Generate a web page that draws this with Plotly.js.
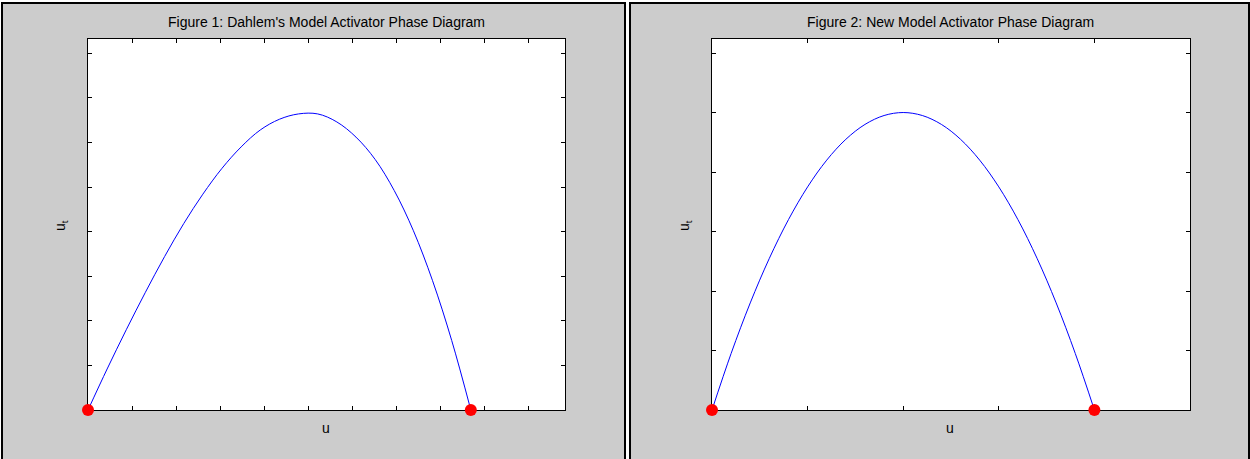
<!DOCTYPE html>
<html>
<head>
<meta charset="utf-8">
<script src="https://cdn.plot.ly/plotly-3.0.1.min.js"></script>
<style>html,body{margin:0;padding:0;background:#fff;}#chart{width:1250px;height:459px;}</style>
</head>
<body>
<div id="chart"></div>
<script>
// Figure 1: Dahlem's model
const uDahlem = [0, 0.0435, 0.087, 0.1305, 0.174, 0.2175, 0.261, 0.3045, 0.348, 0.3915, 0.435, 0.4785, 0.522, 0.5655, 0.609, 0.6525, 0.696, 0.7395, 0.783, 0.8265, 0.870];
const utDahlem = [0, 0.046, 0.090, 0.132, 0.172, 0.209, 0.242, 0.271, 0.295, 0.314, 0.326, 0.332, 0.332, 0.323, 0.306, 0.281, 0.246, 0.201, 0.145, 0.078, 0];
const rootsDahlem = [0, 0.870];

// Figure 2: New model
const uNew = [0, 0.05, 0.1, 0.15, 0.2, 0.25, 0.3, 0.35, 0.4, 0.45, 0.5, 0.55, 0.6, 0.65, 0.7, 0.75, 0.8, 0.85, 0.9, 0.95, 1.0];
const utNew = [0, 0.0475, 0.090, 0.1275, 0.160, 0.1875, 0.210, 0.2275, 0.240, 0.2475, 0.250, 0.2475, 0.240, 0.2275, 0.210, 0.1875, 0.160, 0.1275, 0.090, 0.0475, 0];
const rootsNew = [0, 1.0];

const titles = ["Figure 1: Dahlem's Model Activator Phase Diagram", "Figure 2: New Model Activator Phase Diagram"];
const xLabel = "u";
const yLabel = "u<sub>t</sub>";

const W = 1250, H = 459;
const px = v => v / W;
const py = v => 1 - v / H;

const lineStyle = {color: 'rgb(0,0,255)', width: 1, shape: 'spline', smoothing: 1};
const dotStyle = {color: 'rgb(255,0,0)', size: 12};

const traces = [
  {x: uDahlem, y: utDahlem, mode: 'lines', line: lineStyle, xaxis: 'x', yaxis: 'y', hoverinfo: 'skip'},
  {x: rootsDahlem, y: [0, 0], mode: 'markers', marker: dotStyle, xaxis: 'x', yaxis: 'y', cliponaxis: false, hoverinfo: 'skip'},
  {x: uNew, y: utNew, mode: 'lines', line: lineStyle, xaxis: 'x2', yaxis: 'y2', hoverinfo: 'skip'},
  {x: rootsNew, y: [0, 0], mode: 'markers', marker: dotStyle, xaxis: 'x2', yaxis: 'y2', cliponaxis: false, hoverinfo: 'skip'}
];

const axisBase = {
  showline: true, linecolor: '#000', linewidth: 1, mirror: 'allticks',
  ticks: 'inside', ticklen: 4, tickcolor: '#000', tickwidth: 1,
  showticklabels: false, showgrid: false, zeroline: false, fixedrange: true,
  layer: 'below traces'
};

const yDom = [py(410), py(39)];

const layout = {
  width: W, height: H,
  margin: {l: 0, r: 0, t: 0, b: 0},
  paper_bgcolor: '#ffffff',
  plot_bgcolor: '#ffffff',
  showlegend: false,
  font: {family: 'Liberation Sans, Arial, sans-serif', size: 14, color: '#000'},
  xaxis: Object.assign({}, axisBase, {domain: [px(88), px(565)], range: [0, 1.084], tick0: 0, dtick: 0.1, anchor: 'y'}),
  yaxis: Object.assign({}, axisBase, {domain: yDom, range: [0, 0.416], tick0: 0, dtick: 0.05, anchor: 'x'}),
  xaxis2: Object.assign({}, axisBase, {domain: [px(712), px(1190)], range: [0, 1.25], tick0: 0, dtick: 0.25, anchor: 'y2'}),
  yaxis2: Object.assign({}, axisBase, {domain: yDom, range: [0, 0.3118], tick0: 0, dtick: 0.05, anchor: 'x2'}),
  shapes: [
    {type: 'rect', xref: 'paper', yref: 'paper', x0: px(2), x1: px(625), y0: py(475), y1: py(3), fillcolor: '#cccccc', line: {color: '#000', width: 2}, layer: 'below'},
    {type: 'rect', xref: 'paper', yref: 'paper', x0: px(630), x1: px(1249), y0: py(475), y1: py(3), fillcolor: '#cccccc', line: {color: '#000', width: 2}, layer: 'below'},
    {type: 'rect', xref: 'paper', yref: 'paper', x0: px(88), x1: px(565), y0: py(410), y1: py(39), fillcolor: '#ffffff', line: {width: 0}, layer: 'below'},
    {type: 'rect', xref: 'paper', yref: 'paper', x0: px(712), x1: px(1190), y0: py(410), y1: py(39), fillcolor: '#ffffff', line: {width: 0}, layer: 'below'}
  ],
  annotations: [
    {text: titles[0], xref: 'paper', yref: 'paper', x: px(326.5), y: py(22), showarrow: false, xanchor: 'center', yanchor: 'middle', font: {size: 14}},
    {text: titles[1], xref: 'paper', yref: 'paper', x: px(950), y: py(22), showarrow: false, xanchor: 'center', yanchor: 'middle', font: {size: 14}},
    {text: xLabel, xref: 'paper', yref: 'paper', x: px(326), y: py(428), showarrow: false, xanchor: 'center', yanchor: 'middle', font: {size: 14}},
    {text: xLabel, xref: 'paper', yref: 'paper', x: px(950), y: py(428), showarrow: false, xanchor: 'center', yanchor: 'middle', font: {size: 14}},
    {text: yLabel, xref: 'paper', yref: 'paper', x: px(61), y: py(226), showarrow: false, xanchor: 'center', yanchor: 'middle', textangle: -90, font: {size: 14}},
    {text: yLabel, xref: 'paper', yref: 'paper', x: px(685), y: py(226), showarrow: false, xanchor: 'center', yanchor: 'middle', textangle: -90, font: {size: 14}}
  ]
};

Plotly.newPlot('chart', traces, layout, {staticPlot: true, displayModeBar: false});
</script>
</body>
</html>
